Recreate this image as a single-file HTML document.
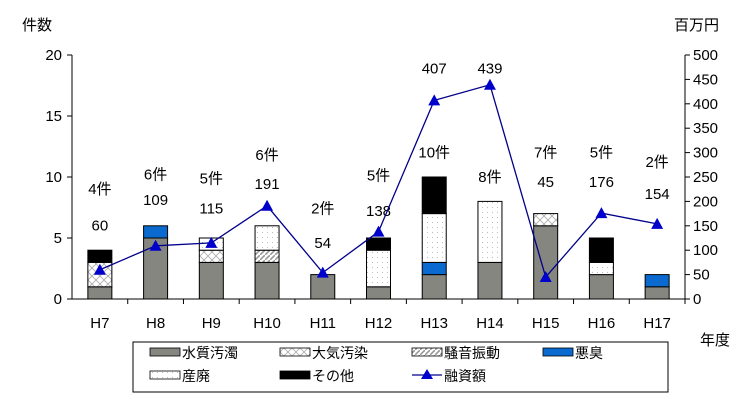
<!DOCTYPE html>
<html><head><meta charset="utf-8"><style>
body{margin:0;background:#fff}
text{font-family:"Liberation Sans","Noto Sans CJK JP",sans-serif;fill:#000}
</style></head><body>
<svg id="c" width="750" height="400">
<defs>
<pattern id="pAir" width="8" height="8" patternUnits="userSpaceOnUse"><rect width="8" height="8" fill="#fff"/><path d="M0 0L8 8M8 0L0 8" stroke="#aaa" stroke-width="0.8"/></pattern>
<pattern id="pNoise" width="5" height="5" patternUnits="userSpaceOnUse"><rect width="5" height="5" fill="#fff"/><path d="M0 5L5 0" stroke="#999" stroke-width="1.6"/></pattern>
<pattern id="pInd" width="5" height="5" patternUnits="userSpaceOnUse"><rect width="5" height="5" fill="#fff"/><rect x="2" y="2" width="1" height="1" fill="#bbb"/></pattern>
</defs>
<g id="g"></g>
</svg>
<script>
const categories=["H7","H8","H9","H10","H11","H12","H13","H14","H15","H16","H17"];
const water=[1,5,3,3,2,1,2,3,6,2,1];
const air=[2,0,1,0,0,0,0,0,1,0,0];
const noise=[0,0,0,1,0,0,0,0,0,0,0];
const odor=[0,1,0,0,0,0,1,0,0,0,1];
const industrial=[0,0,1,2,0,3,4,5,0,1,0];
const other=[1,0,0,0,0,1,3,0,0,2,0];
const loans=[60,109,115,191,54,138,407,439,45,176,154];
const valueLabelAt=[140,193,175,225,105,170,462,462,230,230,205];
const countLabelAt=[215,245,237,285,175,243,290,240,290,290,270];
const leftTicks=[0,5,10,15,20];
const rightTicks=[0,50,100,150,200,250,300,350,400,450,500];
const NS="http://www.w3.org/2000/svg";
const g=document.getElementById('g');
const X0=72,X1=685,Y0=299,Y1=55;
const band=(X1-X0)/categories.length;
const xc=i=>X0+band*(i+0.5);
const yL=v=>Y0-(Y0-Y1)*v/20;
const yR=v=>Y0-(Y0-Y1)*v/500;
function mk(t,a,txt){const e=document.createElementNS(NS,t);for(const k in a)e.setAttribute(k,a[k]);if(txt!==undefined)e.textContent=txt;g.appendChild(e);return e;}
// axes
let e=mk('line',{x1:X0,y1:Y1,x2:X0,y2:Y0,stroke:'#000'});

e=mk('line',{x1:X1,y1:Y1,x2:X1,y2:Y0,stroke:'#000'});

e=mk('line',{x1:X0,y1:Y0,x2:X1,y2:Y0,stroke:'#000'});

leftTicks.forEach(v=>{mk('line',{x1:X0-5,x2:X0,y1:yL(v),y2:yL(v),stroke:'#000'});
 e=mk('text',{x:X0-10,y:yL(v)+5,'text-anchor':'end','font-size':15},v);
 });
rightTicks.forEach(v=>{mk('line',{x1:X1,x2:X1+5,y1:yR(v),y2:yR(v),stroke:'#000'});
 e=mk('text',{x:X1+8,y:yR(v)+5,'font-size':15},v);
 });
categories.forEach((c,i)=>{const x=X0+band*(i+1);mk('line',{x1:x,x2:x,y1:Y0,y2:Y0+5,stroke:'#000'});
 e=mk('text',{x:xc(i),y:Y0+29,'text-anchor':'middle','font-size':15},c);
 });
e=mk('text',{x:22,y:30,'font-size':15},'件数');
e=mk('text',{x:674,y:30,'font-size':15},'百万円');
e=mk('text',{x:700,y:345,'font-size':15},'年度');
// bars
const series=[[water,'#868680','water'],[air,'url(#pAir)','air'],[noise,'url(#pNoise)','noise'],[odor,'#0a6ad0','odor'],[industrial,'url(#pInd)','industrial'],[other,'#000','other']];
const bw=24;
categories.forEach((c,i)=>{let acc=0;series.forEach(([arr,fill,nm])=>{const v=arr[i];if(!v)return;
 const r=mk('rect',{x:xc(i)-bw/2,y:yL(acc+v),width:bw,height:yL(acc)-yL(acc+v),fill:fill,stroke:'#000','stroke-width':1});
 acc+=v;});
 const tot=water[i]+air[i]+noise[i]+odor[i]+industrial[i]+other[i];
 e=mk('text',{x:xc(i),y:yR(countLabelAt[i]),'text-anchor':'middle','font-size':15},tot+'件');
 
 e=mk('text',{x:xc(i),y:yR(valueLabelAt[i]),'text-anchor':'middle','font-size':15},loans[i]);
 
});
// line
e=mk('polyline',{points:loans.map((v,i)=>xc(i)+','+yR(v)).join(' '),fill:'none',stroke:'#00008b','stroke-width':1.3});

loans.forEach((v,i)=>{const x=xc(i),y=yR(v);
 e=mk('polygon',{points:`${x},${y-6} ${x-6},${y+5} ${x+6},${y+5}`,fill:'#0000cc'});
 });
// legend
e=mk('rect',{x:133,y:342,width:535,height:50,fill:'#fff',stroke:'#000'});

const leg=[['水質汚濁','#868680',150,352],['大気汚染','url(#pAir)',280,352],['騒音振動','url(#pNoise)',412,352],['悪臭','#0a6ad0',543,352],['産廃','url(#pInd)',150,375],['その他','#000',280,375]];
leg.forEach(([t,f,x,y])=>{e=mk('rect',{x:x,y:y-4,width:30,height:8,fill:f,stroke:'#000','stroke-width':0.8});
 
 e=mk('text',{x:x+32,y:y+6,'font-size':14},t);});
mk('line',{x1:412,x2:442,y1:375,y2:375,stroke:'#00008b','stroke-width':1.3});
mk('polygon',{points:'427,369 421,379 433,379',fill:'#0000cc'});
e=mk('text',{x:444,y:381,'font-size':14},'融資額');
</script>
</body></html>
